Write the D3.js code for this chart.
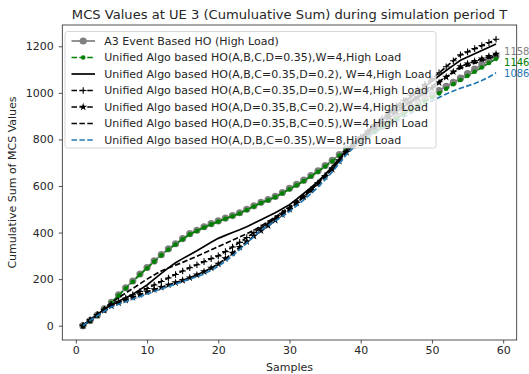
<!DOCTYPE html>
<html>
<head>
<meta charset="utf-8">
<script src="https://cdn.jsdelivr.net/npm/d3@7"></script>
<style>
body { margin: 0; background: #fff; }
text { font-family: "DejaVu Sans", sans-serif; fill: #262626; }
</style>
</head>
<body>
<svg id="chart"></svg>
<script>
// samples 1..59
var samples = d3.range(1, 60);

var a3 = [0,22,45,72,100,132,163,192,222,250,278,305,330,352,374,395,410,425,438,450,462,473,485,500,515,530,542,555,572,590,607,625,645,665,688,710,735,760,780,800,820,840,860,880,900,920,938,957,975,993,1010,1028,1045,1063,1083,1102,1121,1140,1158];
var uniAll = [0,21,44,70,98,129,160,189,219,247,275,302,327,349,371,392,407,422,435,447,459,470,482,497,512,527,539,552,569,586,603,621,641,661,684,706,731,756,776,796,814,832,851,870,889,908,926,944,962,980,998,1018,1037,1055,1073,1091,1109,1128,1146];
var uniD02 = [0,24,48,70,90,105,120,135,155,175,200,225,248,270,288,305,322,340,358,375,388,400,412,425,440,455,470,485,502,520,543,568,593,620,650,682,717,755,783,810,835,860,885,910,935,958,981,1004,1027,1050,1073,1096,1118,1140,1154,1168,1182,1196,1210];
var uniD05 = [0,24,48,70,90,105,119,133,147,160,175,190,205,220,235,249,262,275,288,300,318,338,358,379,400,420,440,461,483,505,530,555,583,613,645,678,713,750,780,810,837,864,891,918,945,968,991,1014,1037,1060,1086,1112,1138,1163,1176,1190,1203,1216,1230];
var uniBC02 = [0,23,45,66,85,98,110,122,134,145,155,165,175,185,195,206,218,232,248,265,288,312,337,361,385,408,430,453,477,500,527,553,582,610,640,672,707,745,775,805,828,851,874,897,920,940,960,980,1000,1020,1044,1068,1091,1113,1125,1136,1146,1157,1167];
var uniBC05 = [0,25,50,75,100,120,140,160,180,200,218,235,248,260,272,285,298,312,326,340,353,367,381,395,410,428,447,467,488,510,535,561,588,616,645,677,712,750,778,805,830,855,880,903,925,946,967,988,1009,1030,1049,1068,1087,1105,1116,1127,1138,1149,1160];
var uniW8 = [0,22,42,62,80,92,103,114,125,136,147,158,168,179,190,200,210,222,238,255,277,300,327,355,383,410,430,450,470,490,515,540,567,595,627,660,697,735,765,795,813,830,846,862,878,895,912,930,948,965,980,995,1008,1020,1030,1040,1053,1068,1086];

var labels = [
  "A3 Event Based HO (High Load)",
  "Unified Algo based HO(A,B,C,D=0.35),W=4,High Load",
  "Unified Algo based HO(A,B,C=0.35,D=0.2), W=4,High Load",
  "Unified Algo based HO(A,B,C=0.35,D=0.5),W=4,High Load",
  "Unified Algo based HO(A,D=0.35,B,C=0.2),W=4,High Load",
  "Unified Algo based HO(A,D=0.35,B,C=0.5),W=4,High Load",
  "Unified Algo based HO(A,D,B,C=0.35),W=8,High Load"
];
var xTicks = [0, 10, 20, 30, 40, 50, 60];
var yTicks = [0, 200, 400, 600, 800, 1000, 1200];
var endLabelSeries = [0, 1, 6]; // which series get a final value label

var series = [
  {name: labels[0], values: a3, color: "#808080", dash: null, marker: "circle", r: 3.6},
  {name: labels[1], values: uniAll, color: "#008000", dash: "5.5,2.4", marker: "circle", r: 2.3},
  {name: labels[2], values: uniD02, color: "#000000", dash: null, marker: null},
  {name: labels[3], values: uniD05, color: "#000000", dash: "5.5,2.4", marker: "plus"},
  {name: labels[4], values: uniBC02, color: "#000000", dash: "5.5,2.4", marker: "star"},
  {name: labels[5], values: uniBC05, color: "#000000", dash: "5.5,2.4", marker: null},
  {name: labels[6], values: uniW8, color: "#1f77b4", dash: "5.5,2.4", marker: null}
];

var W = 529, H = 374;
var svg = d3.select("#chart").attr("width", W).attr("height", H);

var pl = 62.3, pr = 516.7, pt = 25, pb = 340;

var xExt = d3.extent(samples), xPad = (xExt[1] - xExt[0]) * 0.05;
var allY = d3.merge(series.map(function(s) { return s.values; }));
var yExt = d3.extent(allY), yPad = (yExt[1] - yExt[0]) * 0.05;

var x = d3.scaleLinear().domain([xExt[0] - xPad, xExt[1] + xPad]).range([pl, pr]);
var y = d3.scaleLinear().domain([yExt[0] - yPad, yExt[1] + yPad]).range([pb, pt]);

svg.append("clipPath").attr("id", "plotclip")
  .append("rect").attr("x", pl).attr("y", pt).attr("width", pr - pl).attr("height", pb - pt);

var plot = svg.append("g").attr("clip-path", "url(#plotclip)");

var line = d3.line()
  .x(function(d, i) { return x(samples[i]); })
  .y(function(d) { return y(d); });

var star = d3.symbol().type(d3.symbolStar).size(20);

function drawMarker(g, kind, color, r, cx, cy) {
  if (kind == "circle") {
    g.append("circle").attr("cx", cx).attr("cy", cy).attr("r", r).attr("fill", color);
  } else if (kind == "plus") {
    g.append("path")
      .attr("d", "M" + (cx - 3.3) + "," + cy + "h6.6M" + cx + "," + (cy - 3.3) + "v6.6")
      .attr("stroke", color).attr("stroke-width", 1.1).attr("fill", "none");
  } else if (kind == "star") {
    g.append("path").attr("d", star()).attr("transform", "translate(" + cx + "," + cy + ")")
      .attr("fill", color);
  }
}

series.forEach(function(s) {
  plot.append("path")
    .attr("d", line(s.values))
    .attr("fill", "none")
    .attr("stroke", s.color)
    .attr("stroke-width", 1.7)
    .attr("stroke-dasharray", s.dash);
  if (s.marker) {
    var mg = plot.append("g");
    s.values.forEach(function(v, i) {
      drawMarker(mg, s.marker, s.color, s.r, x(samples[i]), y(v));
    });
  }
});

// final value labels
var labelShift = [-5, 4, 1];
endLabelSeries.forEach(function(k, j) {
  var s = series[k];
  var last = s.values[s.values.length - 1];
  svg.append("text")
    .attr("x", x(samples[samples.length - 1]) + 8)
    .attr("y", y(last) + labelShift[j])
    .attr("dy", "0.35em")
    .attr("font-size", 10)
    .style("fill", s.color)
    .text(last);
});

// axes
var xAxis = svg.append("g").attr("transform", "translate(0," + pb + ")")
  .call(d3.axisBottom(x).tickValues(xTicks).tickSize(3.5).tickPadding(3));
var yAxis = svg.append("g").attr("transform", "translate(" + pl + ",0)")
  .call(d3.axisLeft(y).tickValues(yTicks).tickFormat(d3.format("d")).tickSize(3.5).tickPadding(5));
[xAxis, yAxis].forEach(function(a) {
  a.select(".domain").remove();
  a.selectAll("line").attr("stroke", "#262626").attr("stroke-width", 0.8);
  a.selectAll("text").attr("font-size", 11).attr("font-family", "DejaVu Sans").style("fill", "#262626");
});

svg.append("rect")
  .attr("x", pl).attr("y", pt).attr("width", pr - pl).attr("height", pb - pt)
  .attr("fill", "none").attr("stroke", "#262626").attr("stroke-width", 0.8);

// titles
svg.append("text").attr("x", (pl + pr) / 2).attr("y", 19)
  .attr("text-anchor", "middle").attr("font-size", 13.1).text("MCS Values at UE 3 (Cumuluative Sum) during simulation period T");
svg.append("text").attr("x", (pl + pr) / 2).attr("y", 371)
  .attr("text-anchor", "middle").attr("font-size", 11).text("Samples");
svg.append("text").attr("transform", "translate(16," + ((pt + pb) / 2) + ") rotate(-90)")
  .attr("text-anchor", "middle").attr("font-size", 11).text("Cumulative Sum of MCS Values");

// legend
var lg = svg.append("g").attr("transform", "translate(65,31.5)");
lg.append("rect").attr("width", 371).attr("height", 116.5).attr("rx", 2.5)
  .attr("fill", "#fff").attr("fill-opacity", 0.8).attr("stroke", "#cccccc").attr("stroke-width", 0.8);
series.forEach(function(s, i) {
  var cy = 9.5 + i * 16.5;
  lg.append("line").attr("x1", 6.5).attr("x2", 30).attr("y1", cy).attr("y2", cy)
    .attr("stroke", s.color).attr("stroke-width", 1.7).attr("stroke-dasharray", s.dash);
  if (s.marker) drawMarker(lg, s.marker, s.color, s.r, 18.2, cy);
  lg.append("text").attr("x", 39.3).attr("y", cy).attr("dy", "0.35em")
    .attr("font-size", 11).text(s.name);
});
</script>
</body>
</html>
